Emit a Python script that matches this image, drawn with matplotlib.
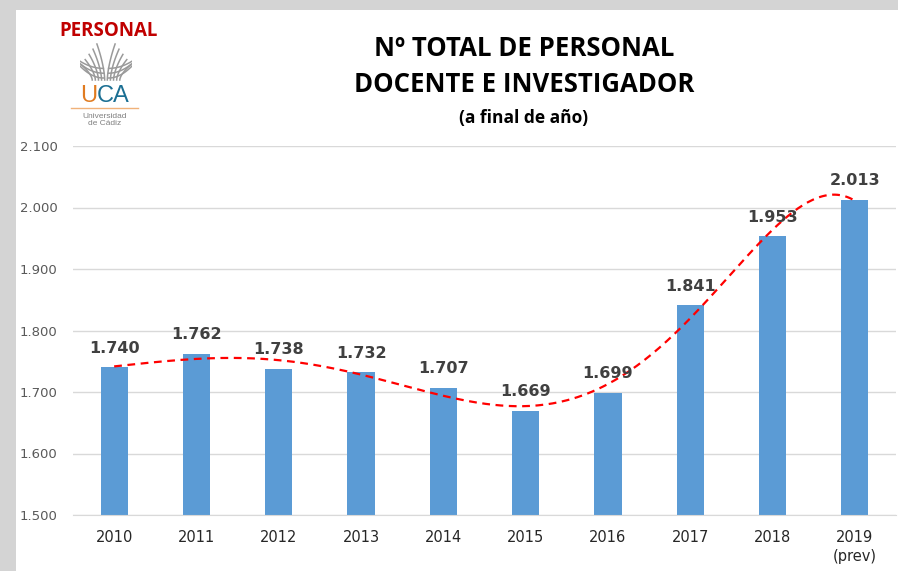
import numpy as np
import matplotlib
matplotlib.use('Agg')
import matplotlib.pyplot as plt
from matplotlib.patches import Rectangle

# data
years = [2010, 2011, 2012, 2013, 2014, 2015, 2016, 2017, 2018, 2019]
year_labels = ['2010', '2011', '2012', '2013', '2014', '2015', '2016', '2017', '2018', '2019\n(prev)']
pdi_total = [1740, 1762, 1738, 1732, 1707, 1669, 1699, 1841, 1953, 2013]
y_ticks = [1500, 1600, 1700, 1800, 1900, 2000, 2100]


def es_fmt(v):
    return f'{v:,.0f}'.replace(',', '.')


W, H = 898, 571
fig = plt.figure(figsize=(W / 100, H / 100), dpi=100)
fig.patch.set_facecolor('#d4d4d4')
# white sheet area (gray border top/left like the screenshot)
fig.patches.append(Rectangle((16 / W, 0), 1, 1 - 10 / H, transform=fig.transFigure,
                             facecolor='white', edgecolor='none', zorder=-5))

ax = fig.add_axes([73 / W, 1 - 515 / H, 823 / W, 369 / H])
ax.set_facecolor('white')
x = np.arange(len(years))
ax.bar(x, pdi_total, width=0.33, color='#5B9BD5', zorder=2)

# 6th order polynomial trendline (as in Excel)
coef = np.polyfit(x, pdi_total, 6)
xs = np.linspace(0, len(years) - 1, 300)
ax.plot(xs, np.polyval(coef, xs), color='#FF0000', lw=1.6, ls=(0, (3.5, 2.5)), zorder=3)

for xi, v in zip(x, pdi_total):
    ax.text(xi, v + 19, es_fmt(v), ha='center', va='bottom', fontsize=11.5,
            fontweight='bold', color='#404040', zorder=4)

ax.set_ylim(1500, 2100)
ax.set_xlim(-0.5, len(years) - 0.5)
ax.set_yticks(y_ticks)
ax.set_yticklabels([es_fmt(t) for t in y_ticks])
ax.set_xticks(x)
ax.set_xticklabels(year_labels, linespacing=1.35)
ax.grid(axis='y', color='#d9d9d9', lw=1, zorder=0)
ax.set_axisbelow(True)
for s in ['top', 'right', 'left']:
    ax.spines[s].set_visible(False)
ax.spines['bottom'].set_color('#d9d9d9')
ax.tick_params(axis='y', length=0, labelsize=9.5, labelcolor='#595959', pad=11)
ax.tick_params(axis='x', length=0, labelsize=10.5, labelcolor='#262626', pad=11)

# titles
fig.text(524 / W, 1 - 48 / H, 'Nº TOTAL DE PERSONAL', ha='center', va='center',
         fontsize=18.5, fontweight='bold', color='black', family='Open Sans')
fig.text(524 / W, 1 - 85 / H, 'DOCENTE E INVESTIGADOR', ha='center', va='center',
         fontsize=18.5, fontweight='bold', color='black', family='Open Sans')
fig.text(524 / W, 1 - 118 / H, '(a final de año)', ha='center', va='center',
         fontsize=12.5, fontweight='bold', color='black', family='Open Sans')

# logo block
fig.text(109 / W, 1 - 31 / H, 'PERSONAL', ha='center', va='center', fontsize=13.5,
         fontweight='bold', color='#C00000', family='Open Sans')
lax = fig.add_axes([80 / W, 1 - 82 / H, 52 / W, 40 / H])
lax.set_xlim(-1, 1)
lax.set_ylim(0, 1)
lax.axis('off')
t = np.linspace(0, 1, 40)
for side in (-1, 1):
    for k in range(5):
        sx = side * (0.05 + 0.12 * k)
        ex = side * (0.35 + 0.15 * k)
        ey = 0.95 - 0.13 * k
        lax.plot(sx + (ex - sx) * t ** 1.6, 0.05 + (ey - 0.05) * t, color='#9a9a9a', lw=1.1)
    for k in range(3):
        lax.plot(side * (0.1 + 0.9 * t), 0.1 + 0.12 * k + 0.3 * t ** 2 * (1 - 0.2 * k),
                 color='#9a9a9a', lw=1.1)
fig.text(97 / W, 1 - 96 / H, 'U', ha='right', va='center', fontsize=17, color='#E07B20',
         family='Liberation Sans')
fig.text(97 / W, 1 - 96 / H, 'CA', ha='left', va='center', fontsize=17, color='#1B6F93',
         family='Liberation Sans')
fig.add_artist(plt.Line2D([71 / W, 138 / W], [1 - 108 / H, 1 - 108 / H], color='#F0B27A', lw=1))
fig.text(105 / W, 1 - 120 / H, 'Universidad\nde Cádiz', ha='center', va='center', fontsize=6,
         color='#808080', linespacing=1.1, family='Liberation Sans')

plt.savefig('out.png', dpi=100, facecolor=fig.get_facecolor())
